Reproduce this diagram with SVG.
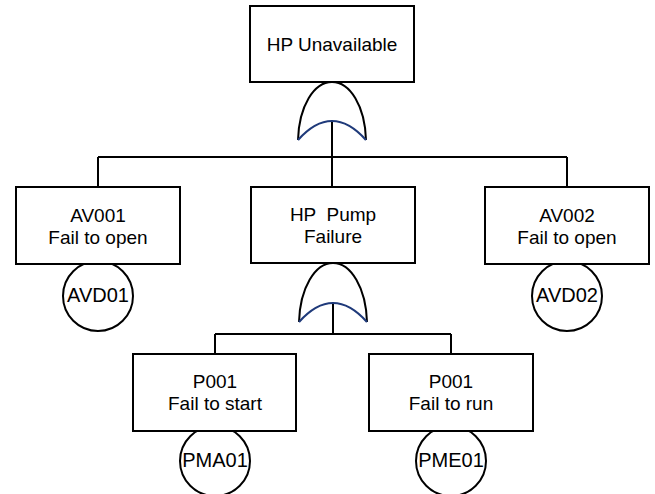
<svg xmlns="http://www.w3.org/2000/svg" width="655" height="494" viewBox="0 0 655 494">
<style>
.box{fill:#fff;stroke:#000;stroke-width:2}
.circ{fill:#fff;stroke:#000;stroke-width:2}
.t{font-family:"Liberation Sans",Arial,sans-serif;font-size:19px;fill:#000;text-anchor:middle}
.c{font-size:20px}
.ln{fill:none;stroke:#000;stroke-width:2}
.gate{fill:#fff;stroke:none}
.arc{fill:none;stroke:#1f3a7a;stroke-width:2.2}
</style>
<rect width="655" height="494" fill="#fff"/>
<g id="connectors">
<path class="ln" d="M332,121 V157 M98,157 H567 M98,157 V187 M332,157 V187 M567,157 V187"/>
<path class="ln" d="M333,303 V334 M215,334 H451 M215,334 V354 M451,334 V354"/>
</g>
<g id="gate1">
<path class="gate" d="M298,140 C299,106 314,82 332,82 C350,82 365,106 366,140 Q332,102 298,140 Z"/>
<path class="ln" d="M298,140 C299,106 314,82 332,82 C350,82 365,106 366,140"/>
<path class="arc" d="M298,140 Q332,102 366,140"/>
</g>
<g id="gate2">
<path class="gate" d="M299,322 C300,288 315,263 333,263 C351,263 366,288 367,322 Q333,284 299,322 Z"/>
<path class="ln" d="M299,322 C300,288 315,263 333,263 C351,263 366,288 367,322"/>
<path class="arc" d="M299,322 Q333,284 367,322"/>
</g>
<g id="AVD01">
<circle class="circ" cx="98" cy="296" r="35"/>
<text class="t c" x="98" y="302">AVD01</text>
</g>
<g id="AVD02">
<circle class="circ" cx="567" cy="296" r="35"/>
<text class="t c" x="567" y="302">AVD02</text>
</g>
<g id="PMA01">
<circle class="circ" cx="215" cy="461" r="35"/>
<text class="t c" x="215" y="467">PMA01</text>
</g>
<g id="PME01">
<circle class="circ" cx="451" cy="461" r="35"/>
<text class="t c" x="451" y="467">PME01</text>
</g>
<g id="top">
<rect class="box" x="250" y="6" width="164" height="76"/>
<text class="t" x="332" y="51">HP Unavailable</text>
</g>
<g id="AV001">
<rect class="box" x="16" y="187" width="164" height="77"/>
<text class="t" x="98" y="222">AV001</text>
<text class="t" x="98" y="244">Fail to open</text>
</g>
<g id="pump">
<rect class="box" x="251" y="187" width="164" height="76"/>
<text class="t" x="333" y="221" xml:space="preserve">HP  Pump</text>
<text class="t" x="333" y="243">Failure</text>
</g>
<g id="AV002">
<rect class="box" x="485" y="187" width="164" height="77"/>
<text class="t" x="567" y="222">AV002</text>
<text class="t" x="567" y="244">Fail to open</text>
</g>
<g id="P001start">
<rect class="box" x="133" y="354" width="163" height="77"/>
<text class="t" x="215" y="388">P001</text>
<text class="t" x="215" y="410">Fail to start</text>
</g>
<g id="P001run">
<rect class="box" x="369" y="354" width="164" height="77"/>
<text class="t" x="451" y="388">P001</text>
<text class="t" x="451" y="410">Fail to run</text>
</g>
</svg>
